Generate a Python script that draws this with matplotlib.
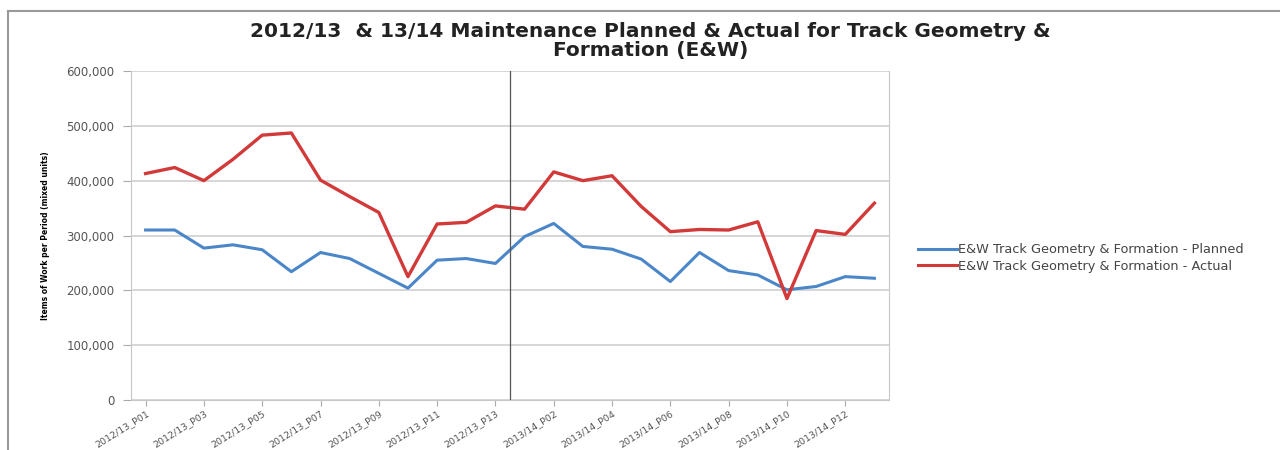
import matplotlib.pyplot as plt
from matplotlib.lines import Line2D
from matplotlib.ticker import FuncFormatter

# periods: 13 per year
periods = ['2012/13_P%02d' % i for i in range(1, 14)] + ['2013/14_P%02d' % i for i in range(1, 14)]

planned = [310000, 310000, 277000, 283000, 274000, 234000, 269000, 258000, 231000, 204000,
           255000, 258000, 249000,
           298000, 322000, 280000, 275000, 257000, 216000, 269000, 236000, 228000, 201000,
           207000, 225000, 222000]
actual = [413000, 424000, 400000, 439000, 483000, 487000, 401000, 371000, 342000, 225000,
          321000, 324000, 354000,
          348000, 416000, 400000, 409000, 353000, 307000, 311000, 310000, 325000, 185000,
          309000, 302000, 359000]

title = '2012/13  & 13/14 Maintenance Planned & Actual for Track Geometry &\nFormation (E&W)'
ylabel = 'Items of Work per Period (mixed units)'
legend_labels = ['E&W Track Geometry & Formation - Planned', 'E&W Track Geometry & Formation - Actual']

fig = plt.figure(figsize=(12.8, 4.5), dpi=100)
ax = fig.add_axes([131 / 1280, 50 / 450, 758 / 1280, 329 / 450])

x = list(range(len(periods)))
ax.plot(x, planned, color='#4a86c8', lw=2.2, label=legend_labels[0])
ax.plot(x, actual, color='#d23a3a', lw=2.4, label=legend_labels[1])

ax.set_xlim(-0.5, len(periods) - 0.5)
ax.set_ylim(0, 600000)
ax.set_yticks(range(0, 600001, 100000))
ax.yaxis.set_major_formatter(FuncFormatter(lambda v, p: '{:,}'.format(int(v))))
ax.grid(axis='y', color='#d0d0d0', lw=1.2)
ax.set_axisbelow(True)
ax.axvline(12.5, color='#555555', lw=0.9)

ax.set_xticks(x[::2])
ax.set_xticklabels(periods[::2], rotation=32, ha='right', rotation_mode='anchor',
                   fontsize=6.8, color='#555555')
ax.tick_params(axis='y', labelsize=8.5, labelcolor='#555555', color='#aaaaaa', length=6, pad=6)
ax.tick_params(axis='x', color='#aaaaaa', length=4, pad=2)

for s in ['left', 'bottom', 'right', 'top']:
    ax.spines[s].set_color('#c8c8c8')
ax.spines['top'].set_visible(False)

ax.set_ylabel(ylabel, fontsize=5.5, fontweight='bold', labelpad=12)

fig.text(0.508, 0.952, title, ha='center', va='top', fontsize=14.5, fontweight='bold',
         color='#222222', linespacing=1.0)

handles = [Line2D([], [], color='#4a86c8', lw=2.2), Line2D([], [], color='#d23a3a', lw=2.2)]
fig.legend(handles, legend_labels, loc='center left', bbox_to_anchor=(0.708, 1 - 258 / 450),
           frameon=False, fontsize=9.3, handlelength=3.0, handletextpad=0.1,
           labelspacing=0.25, labelcolor='#444444')

# outer frame
fig.add_artist(Line2D([8 / 1280, 1.0], [1 - 11 / 450, 1 - 11 / 450], color='#999999', lw=1.5,
                      transform=fig.transFigure))
fig.add_artist(Line2D([8 / 1280, 8 / 1280], [0, 1 - 11 / 450], color='#999999', lw=1.5,
                      transform=fig.transFigure))

fig.savefig('out.png', dpi=100)
